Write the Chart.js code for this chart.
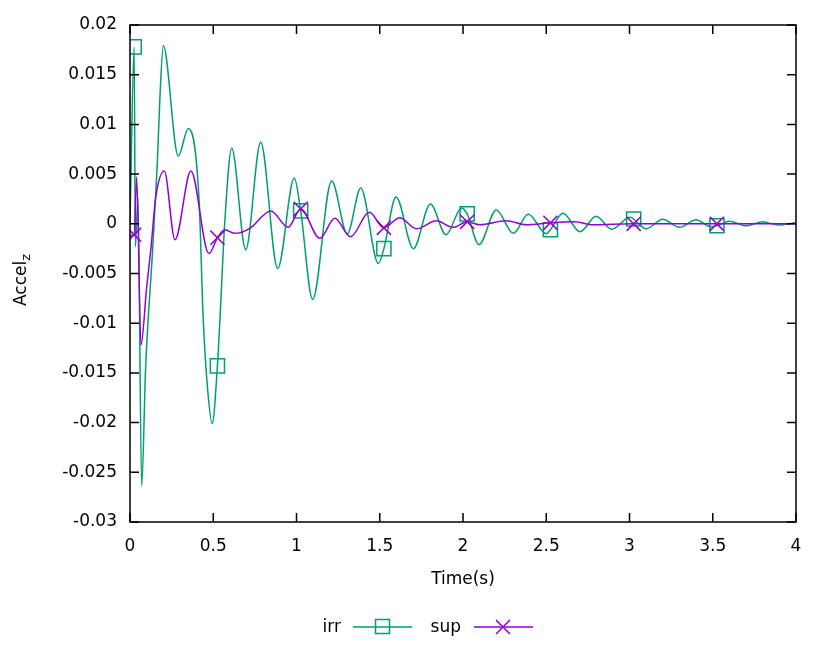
<!DOCTYPE html>
<html>
<head>
<meta charset="utf-8">
<script src="https://cdn.jsdelivr.net/npm/chart.js@4"></script>
<style>
  body { margin: 0; background: #fff; }
</style>
</head>
<body>
<canvas id="myChart" width="830" height="669"></canvas>
<script>
// irr series (green)
const timeIrr = [0, 0.025, 0.032, 0.048, 0.07, 0.094, 0.136, 0.164, 0.18, 0.2,
  0.29, 0.35, 0.414, 0.44, 0.465, 0.494, 0.525, 0.54, 0.57, 0.611,
  0.695, 0.785, 0.887, 0.987, 1.025, 1.097, 1.211, 1.305, 1.386, 1.492,
  1.525, 1.598, 1.702, 1.804, 1.898, 1.992, 2.025, 2.096, 2.2, 2.302,
  2.392, 2.5, 2.525, 2.6, 2.703, 2.8, 2.893, 3.003, 3.025, 3.1,
  3.2, 3.3, 3.4, 3.49, 3.525, 3.6, 3.7, 3.8, 3.89, 4.0];
const accIrr = [0, 0.0178, -0.0023, 0.0026, -0.0264, -0.0144, -0.0026, 0.0061, 0.0128, 0.0179,
  0.0068, 0.0096, 0.0027, -0.0097, -0.0164, -0.0201, -0.0143, -0.0097, 0.0004, 0.0076,
  -0.0026, 0.0082, -0.0045, 0.0046, 0.0013, -0.0076, 0.0043, -0.001, 0.0036, -0.004,
  -0.0025, 0.0027, -0.0025, 0.002, -0.0011, 0.0016, 0.001, -0.0021, 0.0014, -0.00096,
  0.00096, -0.001, -0.0006, 0.00106, -0.0008, 0.00075, -0.00055, 0.00065, 0.00048, -0.0005,
  0.00045, -0.00035, 0.0004, -0.0003, -0.0002, 0.00025, -0.0002, 0.0002, -0.00012, 0.0001];

// sup series (purple)
const timeSup = [0, 0.025, 0.04, 0.066, 0.1, 0.125, 0.155, 0.206, 0.27, 0.366,
  0.474, 0.525, 0.57, 0.63, 0.72, 0.846, 0.95, 1.025, 1.14, 1.23,
  1.325, 1.437, 1.525, 1.62, 1.72, 1.84, 1.94, 2.025, 2.1, 2.26,
  2.38, 2.525, 2.67, 2.78, 3.025, 3.525, 4.0];
const accSup = [-0.0012, -0.0011, 0.0047, -0.0122, -0.0064, -0.0026, 0.0027, 0.0053, -0.0016, 0.0053,
  -0.003, -0.0014, -0.0006, -0.00096, -0.00045, 0.0013, -0.00035, 0.0015, -0.00146, 0.00055,
  -0.0013, 0.00116, -0.0004, 0.0006, -0.0005, 0.0003, -0.00035, 0.0002, -0.0001, 0.0003,
  -0.0001, 0.0001, 0.0002, -0.0001, 0, 0, 0];

// times where gnuplot put a marker
const markTimes = [0.025, 0.525, 1.025, 1.525, 2.025, 2.525, 3.025, 3.525];

const xTickVals = [0, 0.5, 1, 1.5, 2, 2.5, 3, 3.5, 4];
const yTickVals = [-0.03, -0.025, -0.02, -0.015, -0.01, -0.005, 0, 0.005, 0.01, 0.015, 0.02];

const green = '#009e73';
const purple = '#9400d3';
const fontFam = '"DejaVu Sans", sans-serif';
const fs = 17;

function toPoints(ts, vs) {
  const out = [];
  for (let i = 0; i < ts.length; i++) out.push({x: ts[i], y: vs[i]});
  return out;
}
function markRadius(ts) {
  return ctx => markTimes.includes(ts[ctx.dataIndex]) ? 10 : 0;
}

const framePlugin = {
  id: 'frame',
  afterDraw(chart) {
    const c = chart.ctx;
    const a = chart.chartArea;
    const xs = chart.scales.x, ys = chart.scales.y;
    c.save();
    c.strokeStyle = '#000';
    c.lineWidth = 1.5;
    c.strokeRect(a.left, a.top, a.right - a.left, a.bottom - a.top);
    c.beginPath();
    xTickVals.forEach(v => {
      const px = xs.getPixelForValue(v);
      c.moveTo(px, a.bottom); c.lineTo(px, a.bottom - 9);
      c.moveTo(px, a.top); c.lineTo(px, a.top + 9);
    });
    yTickVals.forEach(v => {
      const py = ys.getPixelForValue(v);
      c.moveTo(a.left, py); c.lineTo(a.left + 9, py);
      c.moveTo(a.right, py); c.lineTo(a.right - 9, py);
    });
    c.stroke();

    // x axis title
    c.fillStyle = '#000';
    c.font = fs + 'px ' + fontFam;
    c.textAlign = 'center';
    c.textBaseline = 'middle';
    c.fillText('Time(s)', (a.left + a.right) / 2, 580);

    // y axis title with subscript
    c.translate(22, 280);
    c.rotate(-Math.PI / 2);
    const w1 = c.measureText('Accel').width;
    c.font = '13px ' + fontFam;
    const w2 = c.measureText('z').width;
    const start = -(w1 + w2) / 2;
    c.textAlign = 'left';
    c.font = fs + 'px ' + fontFam;
    c.fillText('Accel', start, 0);
    c.font = '13px ' + fontFam;
    c.fillText('z', start + w1, 5);
    c.restore();

    // legend below the plot
    c.save();
    c.font = fs + 'px ' + fontFam;
    c.fillStyle = '#000';
    c.textBaseline = 'middle';
    c.textAlign = 'right';
    c.fillText('irr', 341, 628);
    c.fillText('sup', 461, 628);
    c.lineWidth = 1.5;
    c.strokeStyle = green;
    c.beginPath(); c.moveTo(353, 627); c.lineTo(412, 627); c.stroke();
    c.strokeRect(375.5, 619.5, 14, 14);
    c.strokeStyle = purple;
    c.beginPath(); c.moveTo(474, 627); c.lineTo(533, 627); c.stroke();
    c.beginPath();
    c.moveTo(496, 620); c.lineTo(510, 634);
    c.moveTo(496, 634); c.lineTo(510, 620);
    c.stroke();
    c.restore();
  }
};

const data = {
  datasets: [{
    label: 'irr',
    data: toPoints(timeIrr, accIrr),
    borderColor: green,
    borderWidth: 1.5,
    pointStyle: 'rect',
    pointRadius: markRadius(timeIrr),
    pointBorderColor: green,
    pointBackgroundColor: 'rgba(0,0,0,0)',
    pointBorderWidth: 1.5,
    cubicInterpolationMode: 'monotone',
    order: 1
  }, {
    label: 'sup',
    data: toPoints(timeSup, accSup),
    borderColor: purple,
    borderWidth: 1.5,
    pointStyle: 'crossRot',
    pointRadius: markRadius(timeSup),
    pointBorderColor: purple,
    pointBackgroundColor: 'rgba(0,0,0,0)',
    pointBorderWidth: 1.5,
    cubicInterpolationMode: 'monotone',
    order: 0
  }]
};

const config = {
  type: 'line',
  data,
  options: {
    responsive: false,
    animation: false,
    layout: { padding: { top: 25, right: 34, bottom: 0, left: 0 } },
    plugins: { legend: { display: false }, tooltip: { enabled: false } },
    scales: {
      x: {
        type: 'linear',
        min: 0, max: 4,
        afterFit: s => { s.height = 147; },
        grid: { display: false, drawTicks: false },
        border: { display: false },
        ticks: {
          stepSize: 0.5, padding: 14, color: '#000', maxRotation: 0,
          font: { family: fontFam, size: fs },
          callback: v => String(+v.toFixed(2))
        }
      },
      y: {
        min: -0.03, max: 0.02,
        afterFit: s => { s.width = 130; },
        grid: { display: false, drawTicks: false },
        border: { display: false },
        ticks: {
          stepSize: 0.005, padding: 13, color: '#000',
          font: { family: fontFam, size: fs },
          callback: v => String(+v.toFixed(3))
        }
      }
    }
  },
  plugins: [framePlugin]
};

const myChart = new Chart(document.getElementById('myChart'), config);
</script>
</body>
</html>
